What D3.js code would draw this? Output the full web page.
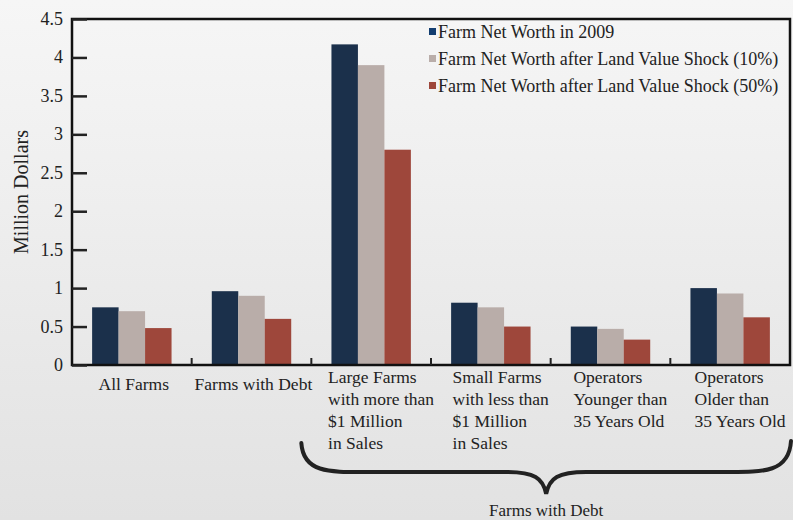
<!doctype html>
<html lang="en">
<head>
  <meta charset="utf-8" />
  <title>Farm Net Worth</title>
  <style>
    html, body { margin: 0; padding: 0; }
    body { width: 793px; height: 520px; overflow: hidden; }
    svg { display: block; font-family: "Liberation Serif", "DejaVu Serif", serif; }
  </style>
</head>
<body>
<script src="https://cdn.jsdelivr.net/npm/d3@7"></script>
<script>

// Data
var categories = [
  ['All Farms'],
  ['Farms with Debt'],
  ['Large Farms', 'with more than', '$1 Million', 'in Sales'],
  ['Small Farms', 'with less than', '$1 Million', 'in Sales'],
  ['Operators', 'Younger than', '35 Years Old'],
  ['Operators', 'Older than', '35 Years Old']
];
var seriesNames = [
  'Farm Net Worth in 2009',
  'Farm Net Worth after Land Value Shock (10%)',
  'Farm Net Worth after Land Value Shock (50%)'
];
var worth2009 = [0.75, 0.96, 4.17, 0.81, 0.50, 1.00];
var worthShock10 = [0.70, 0.90, 3.90, 0.75, 0.47, 0.93];
var worthShock50 = [0.48, 0.60, 2.80, 0.50, 0.33, 0.62];
var yTicks = [0, 0.5, 1, 1.5, 2, 2.5, 3, 3.5, 4, 4.5];

var series = [worth2009, worthShock10, worthShock50];
var colors = ['#1b304b', '#b9ada9', '#9e473b'];
var legendColors = ['#123d70', '#b9ada9', '#9e473b'];

var width = 793, height = 520;
var margin = {left: 72, right: 3, top: 19, bottom: 155};

var svg = d3.select('body').append('svg')
  .attr('width', width)
  .attr('height', height);

// background gradient
var grad = svg.append('defs').append('linearGradient')
  .attr('id', 'bg').attr('x1', 0).attr('y1', 0).attr('x2', 0).attr('y2', 1);
grad.append('stop').attr('offset', '0%').attr('stop-color', '#f6f6f6');
grad.append('stop').attr('offset', '100%').attr('stop-color', '#e2e2e2');
svg.append('rect').attr('width', width).attr('height', height).attr('fill', 'url(#bg)');

var x = d3.scaleBand()
  .domain(d3.range(categories.length))
  .range([margin.left, width - margin.right]);

var inner = d3.scaleBand()
  .domain(d3.range(series.length))
  .range([0, x.bandwidth()])
  .paddingOuter(0.76);

var y = d3.scaleLinear()
  .domain([0, 4.5])
  .range([height - margin.bottom, margin.top]);

// Bars
series.forEach(function (vals, s) {
  svg.append('g').selectAll('rect')
    .data(vals)
    .enter()
    .append('rect')
    .attr('x', function (d, i) { return x(i) + inner(s); })
    .attr('width', inner.bandwidth())
    .attr('y', function (d) { return y(d); })
    .attr('height', function (d) { return y(0) - y(d); })
    .attr('fill', colors[s]);
});

// Frame
var x0 = x.range()[0], x1 = x.range()[1];
svg.append('rect')
  .attr('x', x0).attr('y', y(4.5))
  .attr('width', x1 - x0).attr('height', y(0) - y(4.5))
  .attr('fill', 'none').attr('stroke', '#111').attr('stroke-width', 2.5);

// Y axis, ticks pointing in
var yAxis = svg.append('g')
  .attr('transform', 'translate(' + x0 + ',0)')
  .call(d3.axisRight(y).tickValues(yTicks).tickSize(15).tickFormat(function () { return ''; }));
yAxis.select('.domain').remove();
yAxis.selectAll('line').attr('stroke', '#222').attr('stroke-width', 2.5);

svg.append('g').selectAll('text')
  .data(yTicks)
  .enter()
  .append('text')
  .attr('x', x0 - 9)
  .attr('y', function (d) { return y(d) + 6; })
  .attr('text-anchor', 'end')
  .attr('font-size', 18)
  .attr('fill', '#222')
  .text(function (d) { return d; });

// X axis band ticks pointing up
svg.append('g').selectAll('line')
  .data(d3.range(1, categories.length))
  .enter()
  .append('line')
  .attr('x1', function (i) { return x(i); })
  .attr('x2', function (i) { return x(i); })
  .attr('y1', y(0))
  .attr('y2', y(0) - 7)
  .attr('stroke', '#222').attr('stroke-width', 2);

// Category labels
categories.forEach(function (lines, i) {
  var t = svg.append('text')
    .attr('font-size', 17.5)
    .attr('fill', '#222');
  var multi = lines.length > 1;
  var top = multi ? y(0) + 18 : y(0) + 25;
  lines.forEach(function (line, k) {
    t.append('tspan')
      .attr('x', 0)
      .attr('y', top + k * 22)
      .text(line);
  });
  var w = t.node().getBBox().width;
  var shift = multi ? 10 : 2;
  t.attr('transform', 'translate(' + (x(i) + x.bandwidth() / 2 - w / 2 + shift) + ',0)');
});

// Y axis title
svg.append('text')
  .attr('transform', 'translate(28,' + ((y(0) + y(4.5)) / 2) + ') rotate(-90)')
  .attr('text-anchor', 'middle')
  .attr('font-size', 20)
  .attr('fill', '#222')
  .text('Million Dollars');

// Legend
var legend = svg.append('g').attr('transform', 'translate(429,32)');
seriesNames.forEach(function (name, s) {
  var g = legend.append('g').attr('transform', 'translate(0,' + s * 27 + ')');
  g.append('rect').attr('x', 0).attr('y', -4).attr('width', 7).attr('height', 7).attr('fill', legendColors[s]);
  g.append('text').attr('x', 9).attr('y', 5.5).attr('font-size', 18).attr('fill', '#222').text(name);
});

// Brace under the "Farms with Debt" subgroups
var bl = x(2) - 10, br = x1 + 1;
var bm = (bl + br) / 2;
var by = y(0) + 107, bt = y(0) + 78;
var brace = 'M' + bl + ',' + bt +
  ' C' + (bl + 2) + ',' + (by + 2) + ' ' + (bl + 30) + ',' + by + ' ' + (bl + 70) + ',' + by +
  ' L' + (bm - 40) + ',' + by +
  ' C' + (bm - 12) + ',' + by + ' ' + (bm - 3) + ',' + (by + 6) + ' ' + bm + ',' + (by + 22) +
  ' C' + (bm + 3) + ',' + (by + 6) + ' ' + (bm + 12) + ',' + by + ' ' + (bm + 40) + ',' + by +
  ' L' + (br - 70) + ',' + by +
  ' C' + (br - 30) + ',' + by + ' ' + (br - 2) + ',' + (by + 2) + ' ' + br + ',' + (bt - 2);
svg.append('path')
  .attr('d', brace)
  .attr('fill', 'none')
  .attr('stroke', '#222')
  .attr('stroke-width', 4)
  .attr('stroke-linecap', 'round');

svg.append('text')
  .attr('x', bm)
  .attr('y', y(0) + 151)
  .attr('text-anchor', 'middle')
  .attr('font-size', 17)
  .attr('fill', '#222')
  .text('Farms with Debt');

</script>
</body>
</html>
